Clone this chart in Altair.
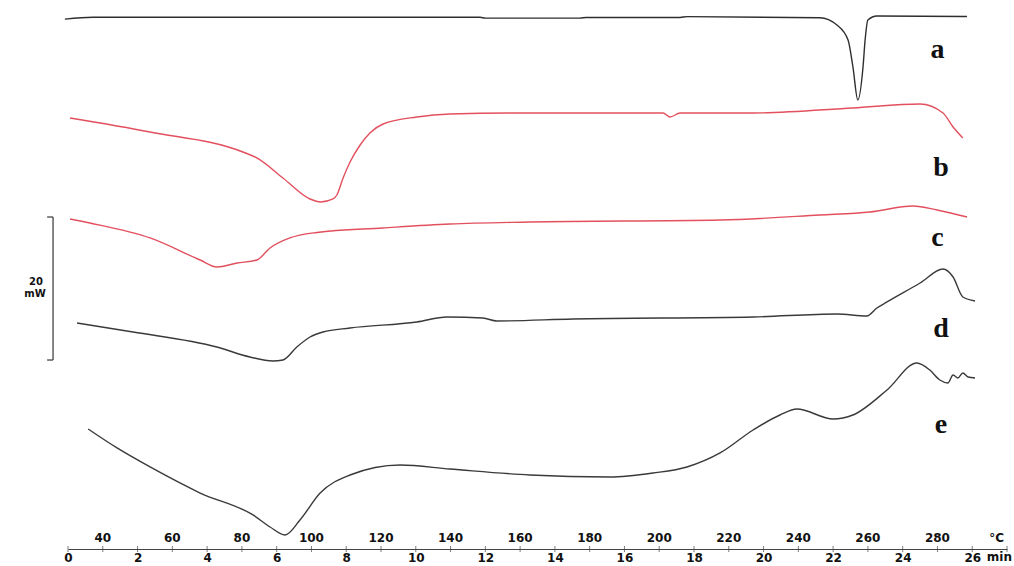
import altair as alt
import pandas as pd

# ---- DSC thermograms: time (min) vs heat flow (mW, curves stacked with offsets) ----
curve_names = ["a", "b", "c", "d", "e"]
curve_colors = ["#2e2e2e", "#e2505e", "#e2505e", "#3a3a3a", "#3a3a3a"]

min_a = [-0.09, 0.72, 11.85, 12.0, 14.72, 14.9, 17.6, 17.8, 21.62, 22.11, 22.43, 22.57,
         22.71, 22.86, 22.92, 23.0, 23.26, 25.85]
mw_a = [74.1, 74.36, 74.36, 74.25, 74.25, 74.34, 74.34, 74.45, 74.3, 73.29, 71.19, 67.41,
        62.80, 67.41, 71.19, 73.99, 74.55, 74.48]

min_b = [0.06, 2.36, 5.03, 5.43, 6.18, 6.96, 7.27, 7.62, 7.73, 7.91, 8.11, 8.40, 8.68, 9.06,
         10.03, 10.98, 13.28, 17.11, 17.31, 17.60, 19.70, 22.57, 24.50, 25.16, 25.45, 25.73]
mw_b = [60.28, 58.32, 55.52, 54.69, 51.89, 48.95, 48.53, 48.95, 49.51, 51.89, 54.13, 56.50,
        58.18, 59.44, 60.42, 60.84, 60.98, 60.98, 60.42, 60.98, 60.98, 61.68, 62.24, 60.98,
        59.02, 57.48]

min_c = [0.06, 0.63, 2.36, 3.80, 4.28, 4.86, 5.43, 5.81, 6.38, 7.16, 9.06, 10.98, 13.28,
         18.75, 21.62, 23.06, 24.30, 24.99, 25.85]
mw_c = [46.15, 45.59, 43.50, 40.42, 39.44, 39.99, 40.42, 42.10, 43.50, 44.27, 44.90, 45.45,
        45.73, 46.01, 46.71, 47.13, 47.97, 47.41, 46.43]

min_d = [0.26, 1.87, 4.28, 5.23, 5.89, 6.18, 6.58, 6.96, 7.33, 8.11, 10.03, 10.90, 11.93,
         12.33, 14.52, 19.70, 22.11, 22.97, 23.26, 23.55, 24.50, 25.16, 25.45, 25.73, 26.08]
mw_d = [31.61, 30.35, 28.25, 26.85, 26.29, 26.43, 28.25, 29.65, 30.35, 30.91, 31.75, 32.45,
        32.31, 31.89, 32.17, 32.45, 32.87, 32.59, 33.71, 34.55, 37.20, 39.16, 38.04, 35.24, 34.69]

min_e = [0.58, 1.41, 2.36, 3.80, 5.32, 5.81, 6.24, 6.67, 7.25, 8.11, 9.55, 10.98, 13.28,
         15.58, 16.82, 17.80, 18.75, 19.70, 20.47, 20.96, 22.00, 22.57, 23.55, 24.41, 24.78,
         25.07, 25.30, 25.45, 25.59, 25.73, 25.88, 26.08]
mw_e = [16.78, 14.13, 11.47, 7.83, 4.76, 3.08, 1.96, 4.06, 7.83, 10.35, 11.75, 11.19, 10.35,
        10.07, 10.63, 11.47, 13.43, 16.64, 18.74, 19.58, 18.18, 18.74, 22.24, 26.01, 25.03,
        23.64, 23.22, 24.34, 23.92, 24.62, 24.06, 23.92]

# curve letter positions (min, mW)
label_min = [25.0, 25.1, 25.0, 25.1, 25.1]
label_mw = [69.8, 53.3, 43.5, 30.8, 17.3]

# temperature scale printed above the time axis (10 °C/min from 30 °C)
temp_min = [1, 3, 5, 7, 9, 11, 13, 15, 17, 19, 21, 23, 25, 26.7]
temp_labels = ["40", "60", "80", "100", "120", "140", "160", "180", "200", "220", "240",
               "260", "280", "°C"]
tick_minutes = list(range(0, 28))
unit_label = "min"

# 20 mW scale bar
bar_low, bar_high = 26.43, 46.43
bar_text = ["20", "mW"]

rows = []
for name, ts, vs in zip(curve_names, [min_a, min_b, min_c, min_d, min_e],
                        [mw_a, mw_b, mw_c, mw_d, mw_e]):
    for i, (t, v) in enumerate(zip(ts, vs)):
        rows.append({"curve": name, "min": t, "mW": v, "order": i})
df = pd.DataFrame(rows)

xs = alt.Scale(domain=[0, 27], nice=False, zero=False)
ys = alt.Scale(domain=[0, 76.78], nice=False, zero=False)
xaxis = alt.Axis(
    values=tick_minutes,
    labelExpr="datum.value % 2 == 0 && datum.value < 27 ? datum.label : ''",
    ticks=False, grid=False, title=None,
    domainColor="#444", domainWidth=1,
    labelFont="DejaVu Sans", labelFontWeight="bold", labelFontSize=12, labelColor="#111",
    labelPadding=3, labelOverlap=False, labelBound=False, labelFlush=False,
)


def X(field):
    return alt.X(field, type="quantitative", scale=xs, axis=xaxis, title=None)


def Y(field):
    return alt.Y(field, type="quantitative", scale=ys, axis=None, title=None)


lines = alt.Chart(df).mark_line(interpolate="monotone", strokeWidth=1.4).encode(
    x=X("min"),
    y=Y("mW"),
    color=alt.Color("curve:N", scale=alt.Scale(domain=curve_names, range=curve_colors),
                    legend=None),
    detail="curve:N",
    order="order:Q",
)

ticks_df = pd.DataFrame({"min": tick_minutes, "mW": [0] * len(tick_minutes)})
ticks = alt.Chart(ticks_df).mark_tick(orient="vertical", size=6, thickness=1,
                                      color="#444").encode(x=X("min"), y=Y("mW"))

temp_df = pd.DataFrame({"min": temp_min, "label": temp_labels})
temps = alt.Chart(temp_df).mark_text(
    font="DejaVu Sans", fontWeight="bold", fontSize=12, color="#111", baseline="middle"
).encode(x=X("min"), y=alt.value(538), text="label:N")

unit_df = pd.DataFrame({"min": [27], "label": [unit_label]})
unit = alt.Chart(unit_df).mark_text(
    font="DejaVu Sans", fontWeight="bold", fontSize=12, color="#111", baseline="top",
    align="right", dx=5
).encode(x=X("min"), y=alt.value(552), text="label:N")

lab_df = pd.DataFrame({"min": label_min, "mW": label_mw, "label": curve_names})
labels = alt.Chart(lab_df).mark_text(
    font="Liberation Serif", fontWeight="bold", fontSize=28, color="#111",
    baseline="middle", align="center"
).encode(x=X("min"), y=Y("mW"), text="label:N")

bar_df = pd.DataFrame({
    "min": [-0.43, -0.6, -0.6],
    "min2": [-0.43, -0.43, -0.43],
    "mW": [bar_low, bar_low, bar_high],
    "mW2": [bar_high, bar_low, bar_high],
})
bar = alt.Chart(bar_df).mark_rule(color="#444", strokeWidth=1.3).encode(
    x=X("min"), x2="min2", y=Y("mW"), y2="mW2"
)
bar_txt_df = pd.DataFrame({"min": [-0.92, -0.95],
                           "mW": [(bar_low + bar_high) / 2 + 0.9,
                                  (bar_low + bar_high) / 2 - 0.8],
                           "label": bar_text})
bar_txt = alt.Chart(bar_txt_df).mark_text(
    font="DejaVu Sans", fontWeight="bold", fontSize=10, color="#111", baseline="middle"
).encode(x=X("min"), y=Y("mW"), text="label:N")

chart = alt.layer(lines, ticks, temps, unit, labels, bar, bar_txt).properties(
    width=939, height=549,
    autosize=alt.AutoSizeParams(type="none"),
    padding={"left": 68, "top": 0, "right": 7, "bottom": 17},
    background="white",
).configure_view(stroke=None)

chart.save("out.html", embed_options={"renderer": "svg", "actions": False})
